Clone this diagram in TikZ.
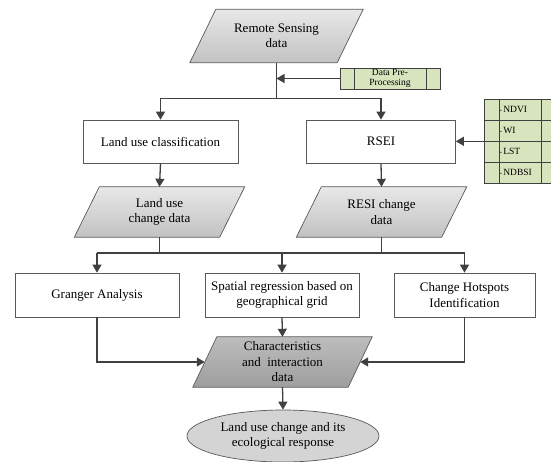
\documentclass[tikz,border=0pt]{standalone}
\usepackage{fontspec}
\setmainfont{Liberation Serif}
\usetikzlibrary{arrows.meta,shapes.geometric,backgrounds}
\definecolor{linegray}{RGB}{64,64,64}
\definecolor{boxgreen}{RGB}{215,228,189}
\tikzset{
    flow/.style={draw=linegray, line width=1.3pt, -{Triangle[length=8pt,width=9pt]}},
    plainline/.style={draw=linegray, line width=1.3pt},
    procbox/.style={draw=black!65, line width=0.7pt, fill=white, minimum height=43pt,
        inner sep=0pt, align=center, font=\fontsize{13}{15.5}\selectfont},
    databox/.style={rectangle, minimum height=50pt, inner sep=0pt, align=center,
        font=\fontsize{13}{15.5}\selectfont},
    datafill/.style={draw=black!65, line width=0.7pt, top color=black!9, bottom color=black!24},
    gcell/.style={draw=black!75, line width=0.6pt, fill=boxgreen, minimum height=21pt,
        inner sep=0pt, font=\fontsize{9.5}{10.5}\selectfont},
}
\begin{document}
\begin{tikzpicture}[x=1pt, y=-1pt]
    \useasboundingbox (0,0) rectangle (551,461);
    \clip (0,0) rectangle (551,461);
    \node[databox, minimum width=147pt, minimum height=53pt] (rs) at (276.5,36) {Remote Sensing\\data};
    \node[gcell, minimum width=14pt] (preL) at (347,78.5) {};
    \node[gcell, minimum width=72pt, align=center] (pre) at (390,78.5) {Data Pre-\\Processing};
    \node[gcell, minimum width=14pt] (preR) at (433,78.5) {};
    \node[procbox, minimum width=155pt] (luc) at (160.5,141.5) {Land use classification};
    \node[procbox, minimum width=149pt] (rsei) at (381,141.5) {RSEI};
    \foreach \idx [count=\i] in {NDVI,WI,LST,NDBSI} {
        \node[gcell, minimum width=15pt] (idxL\i) at (491.5,88.5+21*\i) {};
        \node[gcell, minimum width=42pt, text width=40pt, align=left] (idx\i) at (520,88.5+21*\i) {{\tiny\textbullet}\,\idx};
        \node[gcell, minimum width=40pt] (idxR\i) at (561,88.5+21*\i) {};
    }
    \node[databox, minimum width=145pt] (lucd) at (159.5,212) {Land use\\change data};
    \node[databox, minimum width=145pt] (rcd) at (381.5,212) {RESI change\\data};
    \node[procbox, minimum width=164pt, minimum height=44pt] (granger) at (97,295) {Granger Analysis};
    \node[procbox, minimum width=154pt, minimum height=44pt] (spatial) at (282,295) {Spatial regression based on\\geographical grid};
    \node[procbox, minimum width=141pt, minimum height=44pt] (hot) at (464.5,295) {Change Hotspots\\Identification};
    \node[databox, minimum width=155pt] (char) at (282.5,362) {Characteristics\\and~ interaction\\data};
    \node[ellipse, draw=black!65, line width=0.7pt, fill=black!17, minimum width=192pt, minimum height=52pt,
        inner sep=0pt, align=center, font=\fontsize{13}{15.5}\selectfont] (resp) at (283,436) {Land use change and its\\ecological response};
    % parallelograms behind the data nodes
    \begin{scope}[on background layer]
        \foreach \n/\s in {rs/13,lucd/12.5,rcd/12.5} {
            \path[datafill] ([xshift=\s]\n.north west) -- ([xshift=\s]\n.north east)
                -- ([xshift=-\s]\n.south east) -- ([xshift=-\s]\n.south west) -- cycle;
        }
        \path[datafill, top color=black!26, bottom color=black!38] ([xshift=12]char.north west)
            -- ([xshift=12]char.north east) -- ([xshift=-12]char.south east) -- ([xshift=-12]char.south west) -- cycle;
    \end{scope}
    % connectors
    \draw[plainline] (rs.south) -- ++(0,36) coordinate (split1);
    \draw[flow] (split1) -| (luc.north);
    \draw[flow] (split1) -| (rsei.north);
    \draw[flow] (preL.west) -- (preL.west -| split1);
    \draw[flow] (idxL2.south west) -- (idxL2.south west -| rsei.east);
    \draw[flow] (luc.south) -- (lucd.north);
    \draw[flow] (rsei.south) -- (rcd.north);
    \coordinate (split2) at (0,253);
    \draw[plainline] (lucd.south) -- (lucd.south |- split2);
    \draw[plainline] (rcd.south) -- (rcd.south |- split2);
    \draw[plainline] (granger.north |- split2) -- (hot.north |- split2);
    \foreach \b in {granger,spatial,hot} {
        \draw[flow] (\b.north |- split2) -- (\b.north);
    }
    \draw[flow] (granger.south) |- (char.west);
    \draw[flow] (hot.south) |- (char.east);
    \draw[flow] (spatial.south) -- (char.north);
    \draw[flow] (char.south) -- (resp.north);
\end{tikzpicture}
\end{document}
